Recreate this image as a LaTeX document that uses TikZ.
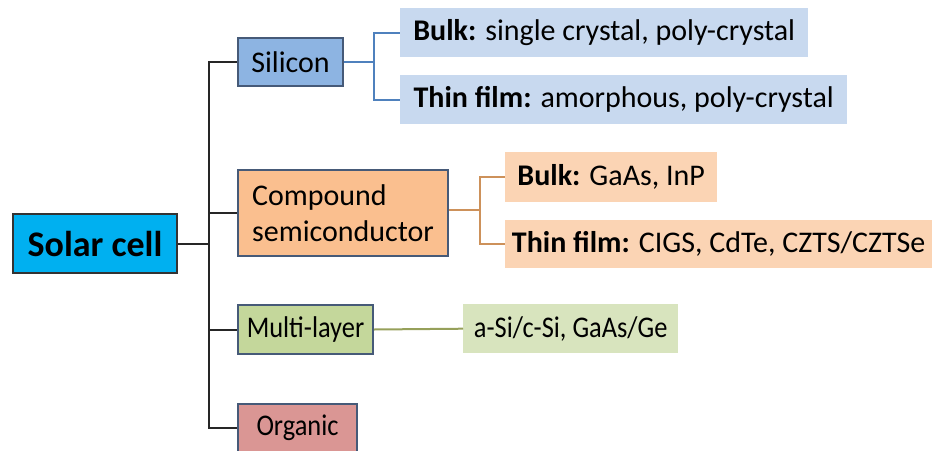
\documentclass[tikz,border=0pt]{standalone}
\usepackage{fontspec}
\setmainfont{Carlito}
\newfontfamily\narrowfont[FakeStretch=0.88]{Carlito}

\definecolor{solarblue}{RGB}{0,176,240}
\definecolor{boxline}{RGB}{70,90,120}
\definecolor{sifill}{RGB}{141,180,226}
\definecolor{cofill}{RGB}{250,191,143}
\definecolor{mlfill}{RGB}{196,215,155}
\definecolor{orfill}{RGB}{218,150,148}
\definecolor{silight}{RGB}{200,217,239}
\definecolor{colight}{RGB}{251,212,180}
\definecolor{mllight}{RGB}{216,228,190}
\definecolor{siline}{RGB}{79,129,189}
\definecolor{coline}{RGB}{205,145,90}
\definecolor{mlline}{RGB}{150,160,90}

\tikzset{
  catbox/.style={draw=boxline, line width=2pt, anchor=north west, inner sep=0pt, align=left, font=\fontsize{30}{36}\selectfont},
  leafbox/.style={anchor=north west, inner sep=0pt, font=\fontsize{30}{36}\selectfont},
  narrowtext/.style={font=\narrowfont\fontsize{30}{36}\selectfont},
  link/.style={line width=2pt}
}

\begin{document}
\begin{tikzpicture}[x=1pt,y=-1pt]

\useasboundingbox (0,0) rectangle (934,450);

% root and categories
\node[catbox, fill=solarblue, draw=black!80, minimum width=164, minimum height=59, font=\bfseries\fontsize{36}{40}\selectfont] (solar) at (12,213) {Solar cell};
\node[catbox, fill=sifill, minimum width=105, minimum height=48] (silicon) at (237,37) {Silicon};
\node[catbox, fill=cofill, minimum width=210, minimum height=86] (compound) at (237,169) {Compound\\semiconductor};
\node[catbox, narrowtext, fill=mlfill, minimum width=135, minimum height=49] (multi) at (237,304) {Multi-layer};
\node[catbox, narrowtext, fill=orfill, minimum width=119, minimum height=48] (organic) at (237,403) {Organic};

% leaves
\node[leafbox, fill=silight, minimum width=408, minimum height=49] (sibulk) at (400,8) {\textbf{Bulk:} single crystal, poly-crystal};
\node[leafbox, fill=silight, minimum width=447, minimum height=49] (sithin) at (400,75) {\textbf{Thin film:} amorphous, poly-crystal};
\node[leafbox, fill=colight, minimum width=212, minimum height=50] (cobulk) at (505,152) {\textbf{Bulk:} GaAs, InP};
\node[leafbox, fill=colight, minimum width=427, minimum height=48] (cothin) at (505,220) {\textbf{Thin film:} CIGS, CdTe, CZTS/CZTSe};
\node[leafbox, narrowtext, fill=mllight, minimum width=215, minimum height=49] (mlleaf) at (463,304) {a-Si/c-Si, GaAs/Ge};

% trunk
\coordinate (trunk) at ([xshift=31]solar.east);
\draw[link, black!85] (solar.east) -- (trunk);
\foreach \n in {silicon,compound,multi,organic}
{
\draw[link, black!85] (trunk) |- (\n.west);
}

% branches
\coordinate (sifork) at ([xshift=30]silicon.east);
\draw[link, siline] (silicon.east) -- (sifork);
\foreach \n in {sibulk,sithin}
{
\draw[link, siline] (sifork) |- (\n.west);
}

\coordinate (cofork) at ([xshift=31,yshift=3]compound.east);
\draw[link, coline] ([yshift=3]compound.east) -- (cofork);
\foreach \n in {cobulk,cothin}
{
\draw[link, coline] (cofork) |- (\n.west);
}

\draw[link, mlline] (multi.east) -- (mlleaf.west);

\end{tikzpicture}
\end{document}
